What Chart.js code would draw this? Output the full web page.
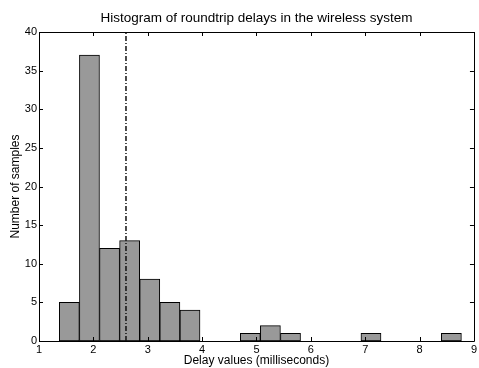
<!DOCTYPE html>
<html>
<head>
<meta charset="utf-8">
<script src="https://cdn.jsdelivr.net/npm/chart.js@4/dist/chart.umd.min.js"></script>
<style>
  body { margin: 0; background: #fff; }
</style>
</head>
<body>
<canvas id="myChart" width="479" height="368"></canvas>
<script>
// centros de las 20 clases del histograma (ms)
const binCenters = [1.558, 1.928, 2.298, 2.667, 3.037, 3.407, 3.777, 4.147, 4.517, 4.887,
                    5.256, 5.626, 5.996, 6.366, 6.736, 7.106, 7.476, 7.845, 8.215, 8.585];
// cantidad de muestras por clase
const counts = [5, 37, 12, 13, 8, 5, 4, 0, 0, 1, 2, 1, 0, 0, 0, 1, 0, 0, 0, 1];
// retardo medio (linea vertical)
const meanDelay = 2.6;
const xTicks = [1, 2, 3, 4, 5, 6, 7, 8, 9];
const yTicks = [0, 5, 10, 15, 20, 25, 30, 35, 40];

const fuente = "'Liberation Sans', Arial, Helvetica, sans-serif";

// caja y marcas hacia adentro, estilo matlab
const cajaPlugin = {
  id: 'caja',
  afterDatasetsDraw(chart) {
    const { ctx, chartArea: a, scales: { x, y } } = chart;
    ctx.save();
    ctx.strokeStyle = '#000';
    ctx.lineWidth = 1;
    ctx.beginPath();
    x.ticks.forEach(t => {
      const px = Math.round(x.getPixelForValue(t.value)) + 0.5;
      ctx.moveTo(px, a.bottom); ctx.lineTo(px, a.bottom - 4);
      ctx.moveTo(px, a.top); ctx.lineTo(px, a.top + 4);
    });
    y.ticks.forEach(t => {
      const py = Math.round(y.getPixelForValue(t.value)) + 0.5;
      ctx.moveTo(a.left, py); ctx.lineTo(a.left + 4, py);
      ctx.moveTo(a.right, py); ctx.lineTo(a.right - 4, py);
    });
    ctx.rect(Math.round(a.left) + 0.5, Math.round(a.top) + 0.5,
             Math.round(a.right) - Math.round(a.left), Math.round(a.bottom) - Math.round(a.top));
    ctx.stroke();
    ctx.restore();
  }
};

const ctx = document.getElementById('myChart').getContext('2d');
new Chart(ctx, {
  type: 'bar',
  data: {
    datasets: [
      {
        type: 'line',
        data: [{ x: meanDelay, y: yTicks[0] }, { x: meanDelay, y: yTicks[yTicks.length - 1] }],
        borderColor: '#111',
        borderWidth: 1.5,
        borderDash: [5, 2, 1, 2],
        pointRadius: 0,
        order: 0
      },
      {
        data: binCenters.map((c, i) => ({ x: c, y: counts[i] })),
        backgroundColor: '#999999',
        borderColor: '#000',
        borderWidth: 1,
        borderSkipped: false,
        barPercentage: 1,
        categoryPercentage: 1,
        order: 1
      }
    ]
  },
  options: {
    responsive: false,
    animation: false,
    layout: { padding: { left: 0, right: 5, top: 0, bottom: 0 } },
    plugins: {
      legend: { display: false },
      tooltip: { enabled: false }
    },
    scales: {
      x: {
        type: 'linear',
        offset: false,
        min: 1,
        max: 9,
        afterBuildTicks: s => { s.ticks = xTicks.map(v => ({ value: v })); },
        afterFit: s => { s.height = 27; },
        grid: { display: false, drawTicks: false, offset: false },
        border: { display: false },
        ticks: { color: '#000', padding: 2, font: { family: fuente, size: 11 } },
        title: {
          display: true,
          text: 'Delay values (milliseconds)',
          color: '#000',
          font: { family: fuente, size: 12 },
          padding: { top: 0, bottom: 0 }
        }
      },
      // eje superior solo para el titulo, centrado sobre el area del grafico
      arriba: {
        type: 'linear',
        position: 'top',
        offset: false,
        min: 1,
        max: 9,
        afterFit: s => { s.height = 32; },
        grid: { display: false, drawTicks: false },
        border: { display: false },
        ticks: { display: false },
        title: {
          display: true,
          text: 'Histogram of roundtrip delays in the wireless system',
          color: '#000',
          font: { family: fuente, size: 13.5 },
          padding: { top: 10, bottom: 0 }
        }
      },
      y: {
        min: 0,
        max: 40,
        afterBuildTicks: s => { s.ticks = yTicks.map(v => ({ value: v })); },
        afterFit: s => { s.width = 39; },
        grid: { display: false, drawTicks: false },
        border: { display: false },
        ticks: { color: '#000', padding: 2, font: { family: fuente, size: 11 } },
        title: {
          display: true,
          text: 'Number of samples',
          color: '#000',
          font: { family: fuente, size: 12 },
          padding: { top: 8, bottom: 0 }
        }
      }
    }
  },
  plugins: [cajaPlugin]
});
</script>
</body>
</html>
